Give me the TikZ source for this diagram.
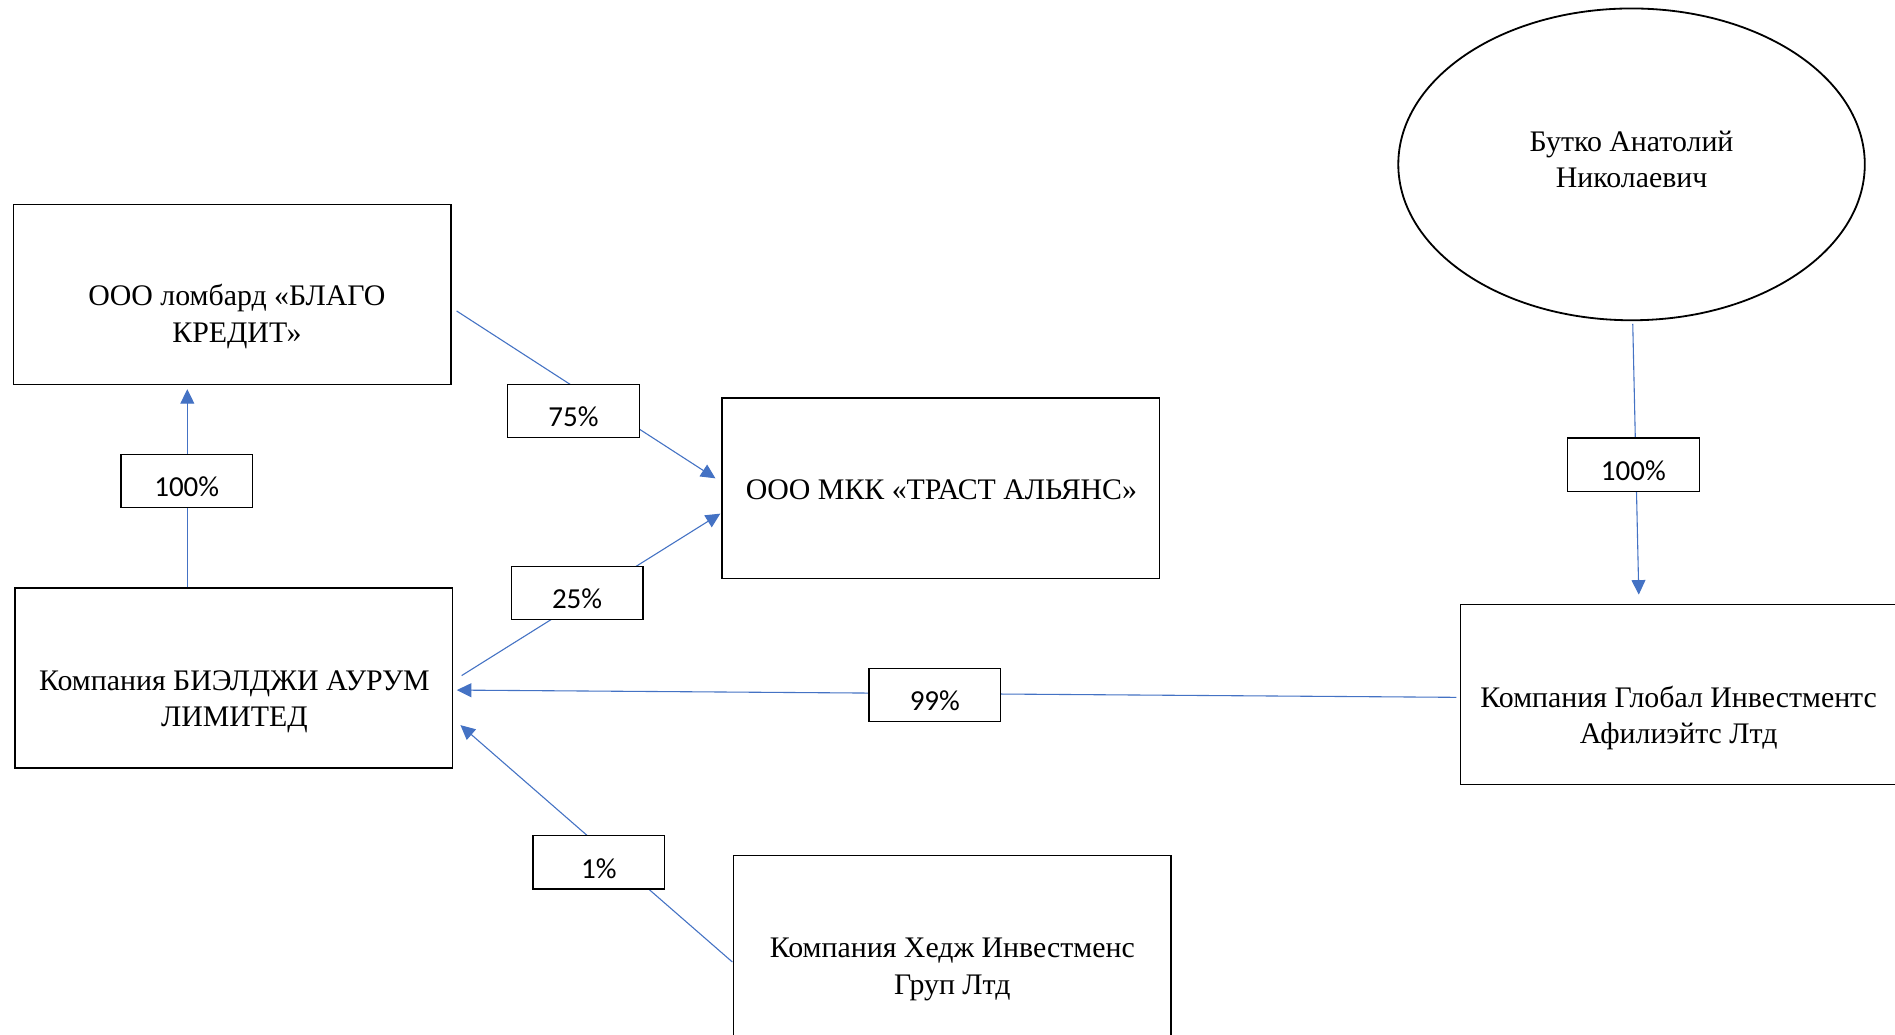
\documentclass[tikz,border=0pt]{standalone}
\usepackage{fontspec}
\setmainfont{Liberation Serif}
\newfontfamily\pctfont{Carlito}
\usetikzlibrary{arrows.meta,shapes.geometric}
\definecolor{conblue}{HTML}{4472C4}
\begin{document}
\begin{tikzpicture}[x=1pt,y=-1pt,
  box/.style={draw=black, line width=1.2pt, minimum width=362pt, minimum height=149pt, inner sep=0pt},
  txt/.style={font=\fontsize{24.7}{30.5}\selectfont, align=center, anchor=base, inner sep=0pt},
  pct/.style={draw=black, fill=white, line width=1.1pt, minimum width=109pt, minimum height=44pt, inner sep=0pt,
    font=\pctfont\fontsize{24}{28}\selectfont, text height=26pt, text depth=0pt},
  conn/.style={draw=conblue, line width=0.9pt, -{Triangle[length=12pt,width=11.5pt]}}]
\useasboundingbox (0,0) rectangle (1568,856);
\clip (0,0) rectangle (1568,856);
\fill[white] (0,0) rectangle (1568,856);
% main boxes
\node[box] (blago) at (192,243.5) {};
\node[box] (mkk) at (778.5,404) {};
\node[box] (bl) at (193.5,561) {};
\node[box] (glob) at (1389.5,574.5) {};
\node[box] (hedge) at (788,782.5) {};
\node[draw=black, ellipse, line width=1.5pt, minimum width=386pt, minimum height=258pt, inner sep=0pt] (butko) at (1350,136) {};
% texts (base anchor = baseline of the last line)
\node[txt] (blagoT) at (196,283.5) {ООО ломбард «БЛАГО\\КРЕДИТ»};
\node[txt] (mkkT) at (779,413) {ООО МКК «ТРАСТ АЛЬЯНС»};
\node[txt] (blT) at (194,601.5) {Компания БИЭЛДЖИ АУРУМ\\ЛИМИТЕД};
\node[txt] (globT) at (1389,615.5) {Компания Глобал Инвестментс\\Афилиэйтс Лтд};
\node[txt] (hedgeT) at (788,822.5) {Компания Хедж Инвестменс\\Груп Лтд};
\node[txt] (butkoT) at (1350,155.5) {Бутко Анатолий\\Николаевич};
% connector end points
\coordinate (s100a) at (155,486);   \coordinate (t100a) at (155,322);
\coordinate (s75) at (377.8,257.3); \coordinate (t75) at (592,395.8);
\coordinate (s25) at (382,559);     \coordinate (t25) at (596,425);
\coordinate (s99) at (1205,577);    \coordinate (t99) at (378,571);
\coordinate (s1) at (606,796);      \coordinate (t1) at (381,600);
\coordinate (s100b) at (1351,268);  \coordinate (t100b) at (1356,492);
% connectors
\draw[conn] (s100a) -- (t100a);
\draw[conn] (s75) -- (t75);
\draw[conn] (s25) -- (t25);
\draw[conn] (s99) -- (t99);
\draw[conn] (s1) -- (t1);
\draw[conn] (s100b) -- (t100b);
% percentage labels
\node[pct] (l100a) at (154.5,398) {100\%};
\node[pct] (l75) at (474.5,340) {75\%};
\node[pct] (l25) at (477.5,490.5) {25\%};
\node[pct] (l99) at (773.5,575) {99\%};
\node[pct] (l1) at (495.5,713.5) {1\%};
\node[pct] (l100b) at (1351.5,384.5) {100\%};
\end{tikzpicture}
\end{document}
